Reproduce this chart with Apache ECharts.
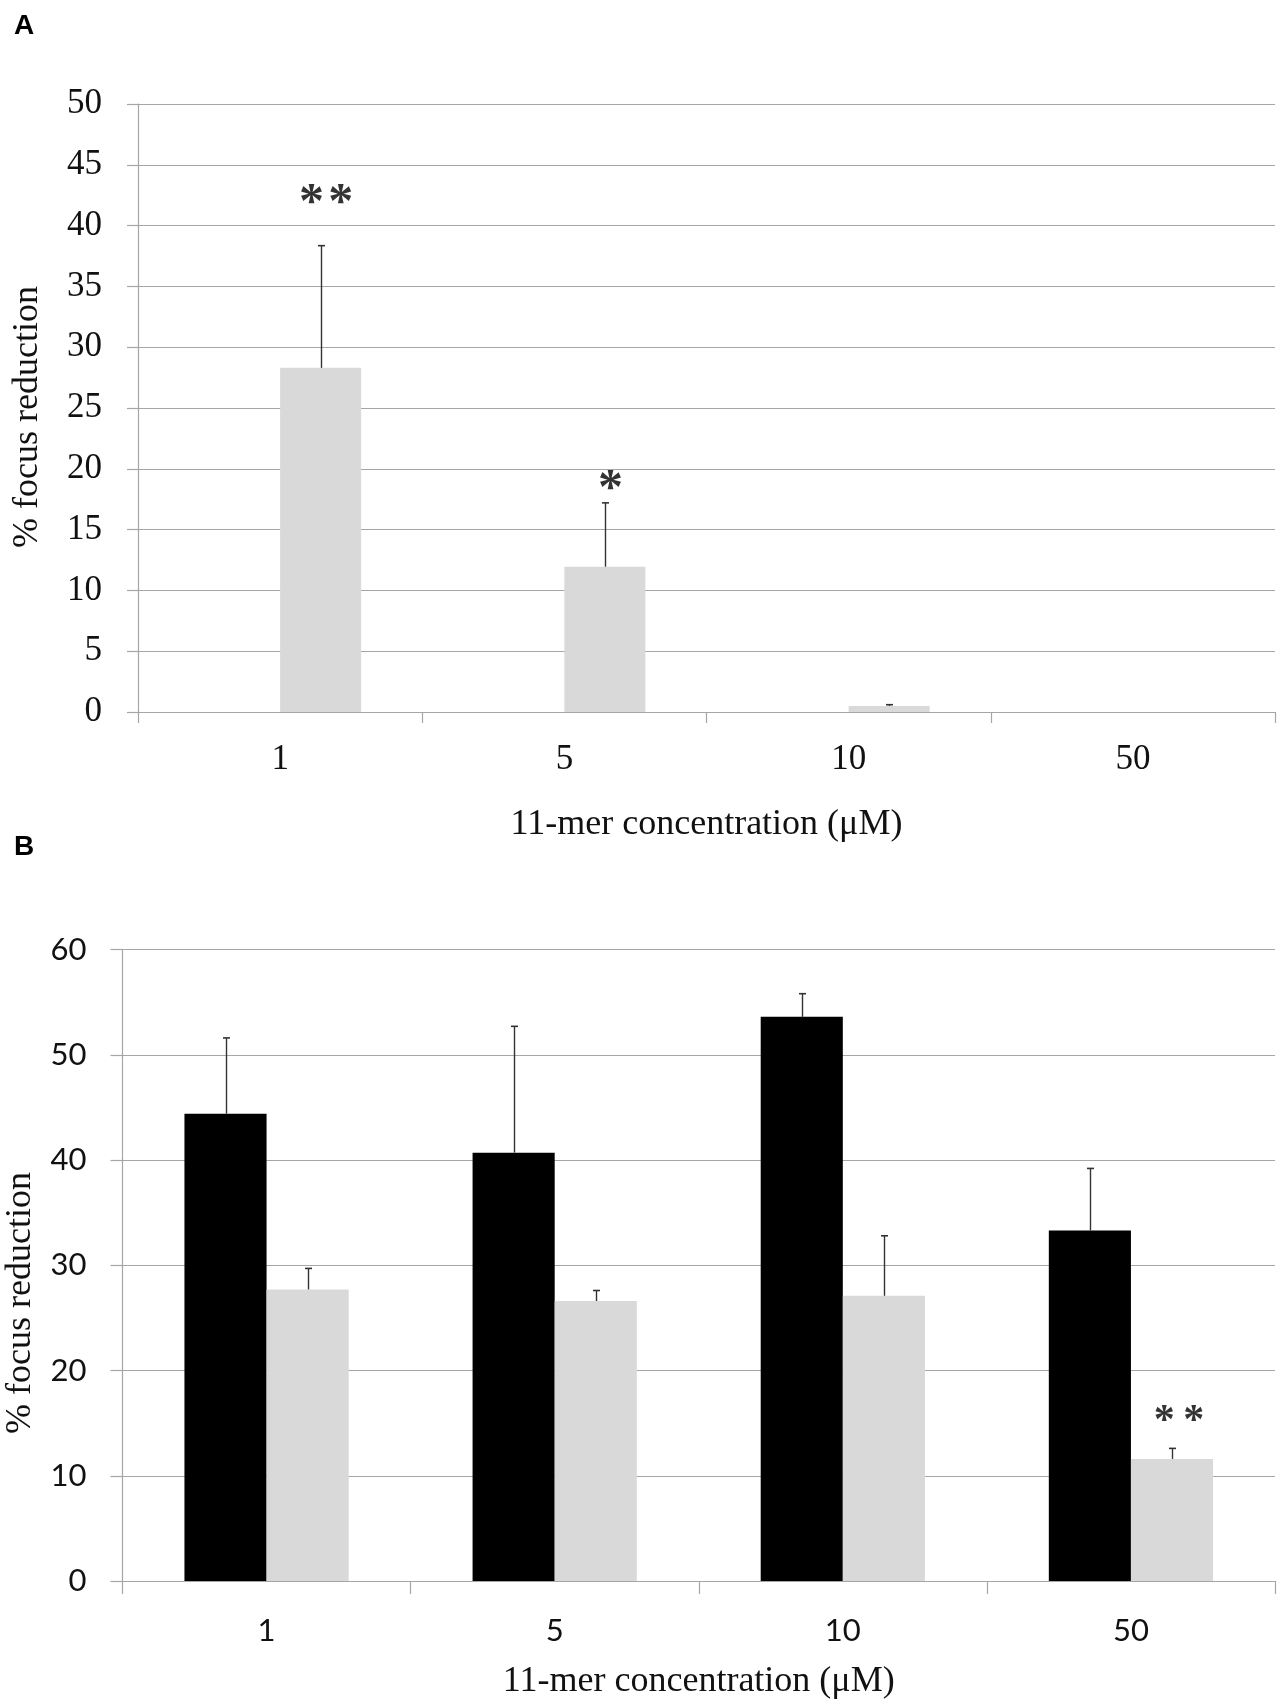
<!DOCTYPE html>
<html>
<head>
<meta charset="utf-8">
<script src="https://cdn.jsdelivr.net/npm/echarts@6/dist/echarts.min.js"></script>
<style>
html,body{margin:0;padding:0;background:#fff;}
#chart{width:1282px;height:1705px;}
</style>
</head>
<body>
<div id="chart"></div>
<script>
// ---- data ----
const categories = ['1', '5', '10', '50'];
// Panel A (only the grey series has values)
const aBlack = [null, null, null, null];
const aGray = [28.3, 11.95, 0.5, null];
const aGrayErr = [10.05, 5.25, 0.1, null];
const aSig = ['*\u200a*', '*', '', ''];
const aSigY = [42.5, 19.0, null, null];
// Panel B
const bBlack = [44.4, 40.7, 53.6, 33.3];
const bBlackErr = [7.2, 12.0, 2.2, 5.9];
const bGray = [27.7, 26.6, 27.1, 11.6];
const bGrayErr = [2.0, 1.0, 5.7, 1.0];
const bSig = ['', '', '', '*\u2009*'];
const bSigY = [null, null, null, 15.8];
// axis ticks
const aYMax = 50, aYStep = 5;
const bYMax = 60, bYStep = 10;

// ---- helpers ----
const CAT_GAP = 0.43;
const GRID_COLOR = '#a6a6a6';
const ERR_COLOR = '#333333';

function errSeries(vals, errs, side, xi, yi) {
  return {
    type: 'custom', xAxisIndex: xi, yAxisIndex: yi, z: 5,
    data: vals.map((v, i) => [i, v == null ? NaN : v, errs[i] == null ? NaN : errs[i]]),
    renderItem: function (params, api) {
      const cat = api.value(0), v = api.value(1), e = api.value(2);
      if (isNaN(v) || isNaN(e) || !e) return;
      const cw = api.size([1, 0])[0];
      const bw = cw * (1 - CAT_GAP) / 2;
      const base = api.coord([cat, v]);
      const top = api.coord([cat, v + e]);
      const x = Math.round(base[0] + side * bw / 2) + 0.5;
      return {
        type: 'group',
        children: [
          {type: 'line', shape: {x1: x, y1: base[1], x2: x, y2: top[1]}, style: {stroke: ERR_COLOR, lineWidth: 1.4}},
          {type: 'line', shape: {x1: x - 3.5, y1: top[1], x2: x + 3.5, y2: top[1]}, style: {stroke: ERR_COLOR, lineWidth: 1.6}}
        ]
      };
    }
  };
}
function sigSeries(labels, ys, xi, yi, dx, font, size) {
  return {
    type: 'scatter', xAxisIndex: xi, yAxisIndex: yi, symbolSize: 0, silent: true, z: 6,
    data: ys.map((y, i) => [i, y == null ? NaN : y]),
    label: {
      show: true, position: 'inside', offset: [dx, Math.round(size * 0.17)],
      formatter: p => labels[p.dataIndex],
      fontFamily: font, fontWeight: 'bold', fontSize: size, color: '#000'
    }
  };
}

const serifFont = 'Liberation Serif';
const sansFont = 'Lato';

const chart = echarts.init(document.getElementById('chart'), null, {renderer: 'canvas'});
chart.setOption({
  backgroundColor: '#fff',
  animation: false,
  grid: [
    {left: 138, right: 7, top: 104, height: 608},
    {left: 122.5, right: 7, top: 949.5, height: 631.5}
  ],
  xAxis: [
    {
      type: 'category', gridIndex: 0, data: categories, boundaryGap: true,
      axisLine: {lineStyle: {color: GRID_COLOR, width: 1.2}},
      axisTick: {show: true, length: 11, alignWithLabel: false, lineStyle: {color: GRID_COLOR, width: 1.2}},
      axisLabel: {margin: 30, fontFamily: serifFont, fontSize: 35, color: '#111'},
      name: '11-mer concentration (\u03bcM)', nameLocation: 'middle', nameGap: 95,
      nameTextStyle: {fontFamily: serifFont, fontSize: 36, color: '#111'}
    },
    {
      type: 'category', gridIndex: 1, data: categories, boundaryGap: true,
      axisLine: {lineStyle: {color: GRID_COLOR, width: 1.2}},
      axisTick: {show: true, length: 13, lineStyle: {color: GRID_COLOR, width: 1.2}},
      axisLabel: {margin: 34, fontFamily: sansFont, fontSize: 31, color: '#111'},
      name: '11-mer concentration (\u03bcM)', nameLocation: 'middle', nameGap: 83,
      nameTextStyle: {fontFamily: serifFont, fontSize: 36, color: '#111'}
    }
  ],
  yAxis: [
    {
      type: 'value', gridIndex: 0, min: 0, max: aYMax, interval: aYStep,
      axisLine: {show: true, lineStyle: {color: GRID_COLOR, width: 1.2}},
      axisTick: {show: true, length: 11, lineStyle: {color: GRID_COLOR, width: 1.2}},
      splitLine: {show: true, lineStyle: {color: GRID_COLOR, width: 1.2}},
      axisLabel: {margin: 36, fontFamily: serifFont, fontSize: 35, color: '#111'}
    },
    {
      type: 'value', gridIndex: 1, min: 0, max: bYMax, interval: bYStep,
      axisLine: {show: true, lineStyle: {color: GRID_COLOR, width: 1.2}},
      axisTick: {show: true, length: 12, lineStyle: {color: GRID_COLOR, width: 1.2}},
      splitLine: {show: true, lineStyle: {color: GRID_COLOR, width: 1.2}},
      axisLabel: {margin: 36, fontFamily: sansFont, fontSize: 31, color: '#111'}
    }
  ],
  graphic: [
    {type: 'text', left: 14, top: 12, style: {text: 'A', fontFamily: 'Liberation Sans', fontWeight: 'bold', fontSize: 28, fill: '#000'}},
    {type: 'text', left: 14, top: 833, style: {text: 'B', fontFamily: 'Liberation Sans', fontWeight: 'bold', fontSize: 28, fill: '#000'}},
    {type: 'text', x: 28, y: 417, rotation: Math.PI / 2,
      style: {text: '% focus reduction', fontFamily: serifFont, fontSize: 36, fill: '#111', align: 'center', verticalAlign: 'middle'}},
    {type: 'text', x: 21, y: 1303, rotation: Math.PI / 2,
      style: {text: '% focus reduction', fontFamily: serifFont, fontSize: 36, fill: '#111', align: 'center', verticalAlign: 'middle'}}
  ],
  series: [
    {type: 'bar', xAxisIndex: 0, yAxisIndex: 0, data: aBlack, barGap: '0%', barCategoryGap: (CAT_GAP * 100) + '%', itemStyle: {color: '#000'}},
    {type: 'bar', xAxisIndex: 0, yAxisIndex: 0, data: aGray, barGap: '0%', barCategoryGap: (CAT_GAP * 100) + '%', itemStyle: {color: '#d9d9d9'}},
    errSeries(aGray, aGrayErr, 1, 0, 0),
    sigSeries(aSig, aSigY, 0, 0, 46, serifFont, 50),
    {type: 'bar', xAxisIndex: 1, yAxisIndex: 1, data: bBlack, barGap: '0%', barCategoryGap: (CAT_GAP * 100) + '%', itemStyle: {color: '#000'}},
    {type: 'bar', xAxisIndex: 1, yAxisIndex: 1, data: bGray, barGap: '0%', barCategoryGap: (CAT_GAP * 100) + '%', itemStyle: {color: '#d9d9d9'}},
    errSeries(bBlack, bBlackErr, -1, 1, 1),
    errSeries(bGray, bGrayErr, 1, 1, 1),
    sigSeries(bSig, bSigY, 1, 1, 48, serifFont, 42)
  ]
});
</script>
</body>
</html>
